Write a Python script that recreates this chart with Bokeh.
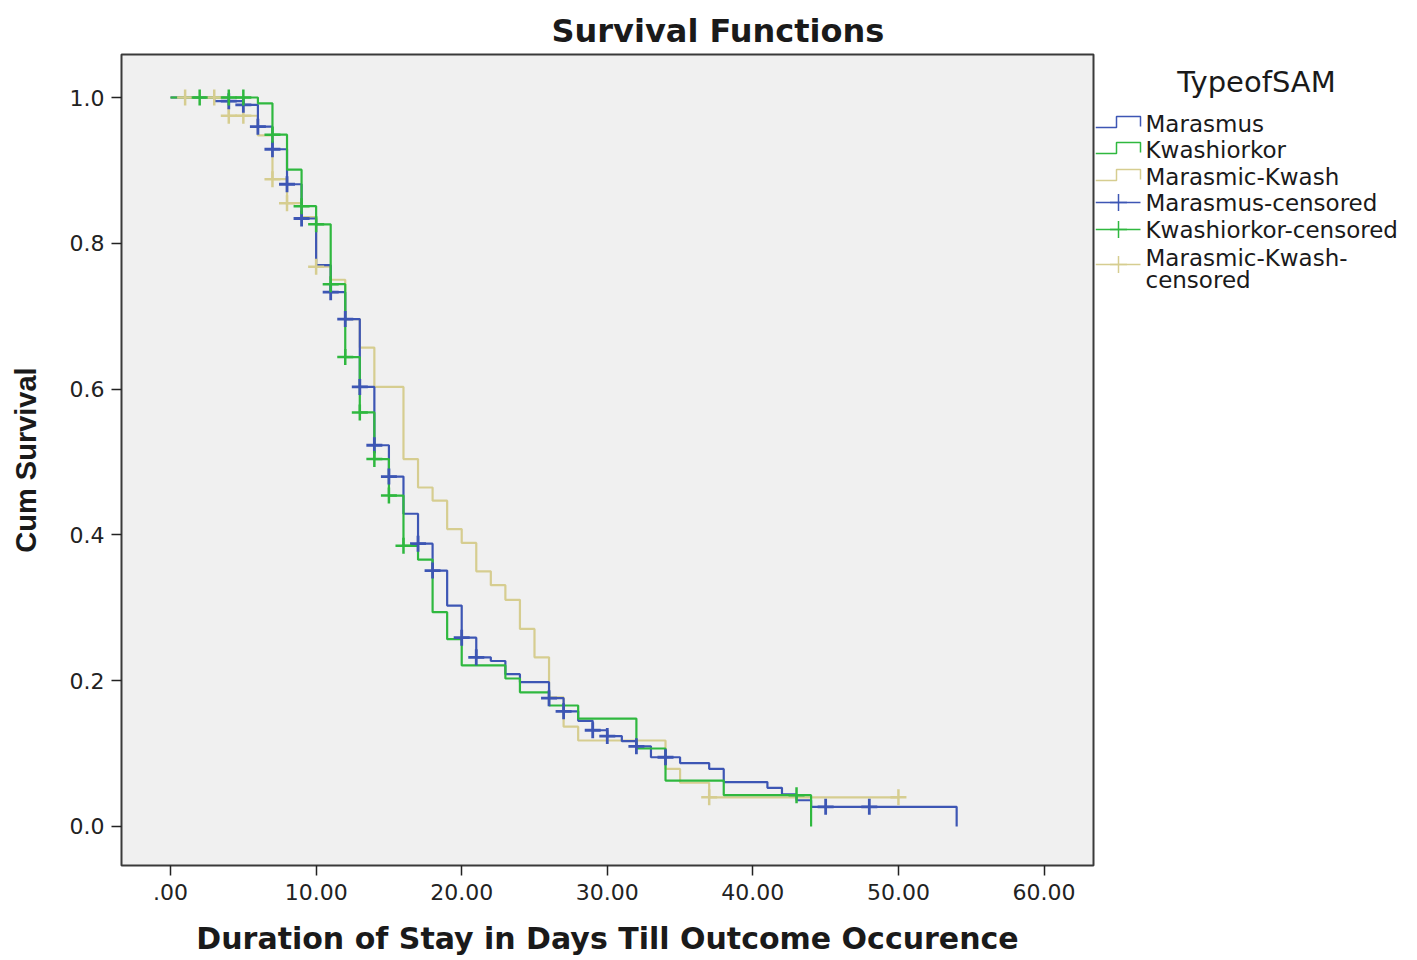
from bokeh.plotting import figure
from bokeh.models import Range1d, FixedTicker
from bokeh.layouts import row
from bokeh.embed import file_html
from bokeh.resources import INLINE
from bokeh.core.properties import value

# ---------------- data ----------------
marasmus_t = [0, 3, 5, 6, 7, 8, 9, 10, 11, 12, 13, 14, 15, 16, 17, 18, 19, 20, 21, 22, 23, 24,
              26, 27, 28, 29, 30, 31, 32, 33, 35, 37, 38, 41, 42, 43, 44, 54]
marasmus_s = [1.0, 0.995, 0.990, 0.960, 0.929, 0.881, 0.834, 0.770, 0.733, 0.696, 0.603, 0.523,
              0.480, 0.429, 0.388, 0.351, 0.303, 0.259, 0.232, 0.227, 0.209, 0.198,
              0.176, 0.158, 0.145, 0.132, 0.124, 0.117, 0.110, 0.095, 0.087, 0.079, 0.061,
              0.053, 0.044, 0.036, 0.027, 0.0]
marasmus_cens_t = [4, 5, 6, 7, 8, 9, 11, 12, 13, 14, 15, 17, 18, 20, 21, 26, 27, 29, 30, 32, 34, 45, 48]
marasmus_cens_s = [0.995, 0.990, 0.960, 0.929, 0.881, 0.834, 0.733, 0.696, 0.603, 0.523, 0.480,
                   0.388, 0.351, 0.259, 0.232, 0.176, 0.158, 0.132, 0.124, 0.110, 0.095, 0.027, 0.027]

kwash_t = [0, 6, 7, 8, 9, 10, 11, 12, 13, 14, 15, 16, 17, 18, 19, 20, 23, 24, 26, 28, 32, 34, 38, 44]
kwash_s = [1.0, 0.992, 0.949, 0.901, 0.851, 0.826, 0.744, 0.644, 0.568, 0.504, 0.454, 0.385,
           0.366, 0.294, 0.257, 0.221, 0.203, 0.184, 0.166, 0.148, 0.107, 0.063, 0.043, 0.0]
kwash_cens_t = [2, 4, 5, 7, 9, 10, 11, 12, 13, 14, 15, 16, 43]
kwash_cens_s = [1.0, 1.0, 1.0, 0.949, 0.851, 0.826, 0.744, 0.644, 0.568, 0.504, 0.454, 0.385, 0.043]

mk_t = [0, 4, 6, 7, 8, 9, 10, 11, 12, 13, 14, 16, 17, 18, 19, 20, 21, 22, 23, 24, 25, 26, 27, 28,
        34, 35, 37, 50]
mk_s = [1.0, 0.975, 0.948, 0.888, 0.855, 0.836, 0.768, 0.750, 0.696, 0.657, 0.603, 0.504, 0.465,
        0.447, 0.408, 0.389, 0.350, 0.331, 0.311, 0.271, 0.232, 0.177, 0.137, 0.118,
        0.079, 0.060, 0.040, 0.040]
mk_cens_t = [1, 3, 4, 5, 7, 8, 10, 37, 50]
mk_cens_s = [1.0, 1.0, 0.975, 0.975, 0.888, 0.855, 0.768, 0.040, 0.040]

x_ticks = [0, 10, 20, 30, 40, 50, 60]
x_tick_labels = [".00", "10.00", "20.00", "30.00", "40.00", "50.00", "60.00"]
y_ticks = [0.0, 0.2, 0.4, 0.6, 0.8, 1.0]
y_tick_labels = ["0.0", "0.2", "0.4", "0.6", "0.8", "1.0"]

legend_title = "TypeofSAM"
legend_labels = ["Marasmus", "Kwashiorkor", "Marasmic-Kwash",
                 "Marasmus-censored", "Kwashiorkor-censored", "Marasmic-Kwash-|censored"]

# ---------------- styles ----------------
BLUE = "#3D56B4"
GREEN = "#2FB83F"
TAN = "#D6CD90"
TEXT = "#1a1a1a"

# ---------------- main plot ----------------
p = figure(width=1095, height=960,
           x_range=Range1d(-3.37, 63.4), y_range=Range1d(-0.0535, 1.059),
           output_backend="svg", toolbar_location=None,
           min_border_left=121, min_border_top=54, min_border_bottom=95, min_border_right=2)
p.background_fill_color = "#F0F0F0"
p.border_fill_color = "white"
p.outline_line_color = "#3a3a3a"
p.outline_line_width = 2
p.grid.visible = False

p.title.text = "Survival Functions"
p.title.align = "left"
p.title.offset = 430
p.title.standoff = 10
p.title.text_font = "DejaVu Sans"
p.title.text_font_style = "bold"
p.title.text_font_size = "32px"
p.title.text_color = TEXT

p.xaxis.ticker = FixedTicker(ticks=x_ticks)
p.xaxis.major_label_overrides = {float(t): l for t, l in zip(x_ticks, x_tick_labels)}
p.yaxis.ticker = FixedTicker(ticks=y_ticks)
p.yaxis.major_label_overrides = {float(t): l for t, l in zip(y_ticks, y_tick_labels)}

for ax in (p.xaxis[0], p.yaxis[0]):
    ax.axis_line_color = None
    ax.major_tick_in = 0
    ax.major_tick_out = 10
    ax.minor_tick_in = 0
    ax.minor_tick_out = 0
    ax.major_tick_line_color = "#222222"
    ax.major_tick_line_width = 1.5
    ax.major_label_text_font = "DejaVu Sans"
    ax.major_label_text_font_size = "22px"
    ax.major_label_text_color = "#222222"
    ax.axis_label_text_font_style = "bold"
    ax.axis_label_text_color = TEXT

p.xaxis.axis_label = "Duration of Stay in Days Till Outcome Occurence"
p.xaxis.axis_label_text_font = "DejaVu Sans"
p.xaxis.axis_label_text_font_size = "30px"
p.xaxis.major_label_standoff = 8
p.xaxis.axis_label_standoff = 18

p.yaxis.axis_label = "Cum Survival"
p.yaxis.axis_label_text_font = "Liberation Sans"
p.yaxis.axis_label_text_font_size = "29px"
p.yaxis.major_label_standoff = 7
p.yaxis.axis_label_standoff = 25

# step curves
p.step(mk_t, mk_s, mode="after", line_color=TAN, line_width=2.2)
p.step(marasmus_t, marasmus_s, mode="after", line_color=BLUE, line_width=2.2)
p.step(kwash_t, kwash_s, mode="after", line_color=GREEN, line_width=2.2)

# censored marks
p.scatter(mk_cens_t, mk_cens_s, marker="cross", size=16, line_color=TAN, line_width=2.5)
p.scatter(marasmus_cens_t, marasmus_cens_s, marker="cross", size=16, line_color=BLUE, line_width=2.8)
p.scatter(kwash_cens_t, kwash_cens_s, marker="cross", size=16, line_color=GREEN, line_width=2.5)

# ---------------- legend panel (page-pixel coordinates; frame aligned with main frame) ----------------
lg = figure(width=322, height=960, x_range=Range1d(1095, 1417), y_range=Range1d(865, 54),
            output_backend="svg", toolbar_location=None,
            x_axis_location=None, y_axis_location=None,
            min_border=0, min_border_left=0, min_border_right=0,
            min_border_top=54, min_border_bottom=95)
lg.outline_line_color = None
lg.grid.visible = False
lg.background_fill_color = "white"
lg.border_fill_color = "white"

lg.text(x=[1256], y=[81], text=[legend_title], text_font=value("DejaVu Sans"),
        text_font_size=value("29px"), text_align="center", text_baseline="middle",
        text_color=TEXT)

row_y = [123, 149, 176, 202, 229, 264]
colors = [BLUE, GREEN, TAN, BLUE, GREEN, TAN]
icon_x0, icon_xm, icon_x1, text_x = 1095, 1116, 1140, 1145

for i, (lab, col, yy) in enumerate(zip(legend_labels, colors, row_y)):
    if i < 3:
        lg.line([icon_x0, icon_xm, icon_xm, icon_x1, icon_x1],
                [yy + 4, yy + 4, yy - 7, yy - 7, yy + 3],
                line_color=col, line_width=1.5)
    else:
        lg.line([icon_x0, icon_x1], [yy, yy], line_color=col, line_width=1.5)
        lg.scatter([1118], [yy], marker="cross", size=17, line_color=col, line_width=1.5)
    parts = lab.split("|")
    if len(parts) == 1:
        lg.text(x=[text_x], y=[yy], text=[lab], text_font=value("DejaVu Sans"),
                text_font_size=value("23px"), text_align="left", text_baseline="middle",
                text_color=TEXT)
    else:
        lg.text(x=[text_x, text_x], y=[yy - 7, yy + 15], text=parts,
                text_font=value("DejaVu Sans"), text_font_size=value("23px"),
                text_align="left", text_baseline="middle", text_color=TEXT)

layout = row(p, lg)
open("out.html", "w").write(file_html(layout, INLINE))
